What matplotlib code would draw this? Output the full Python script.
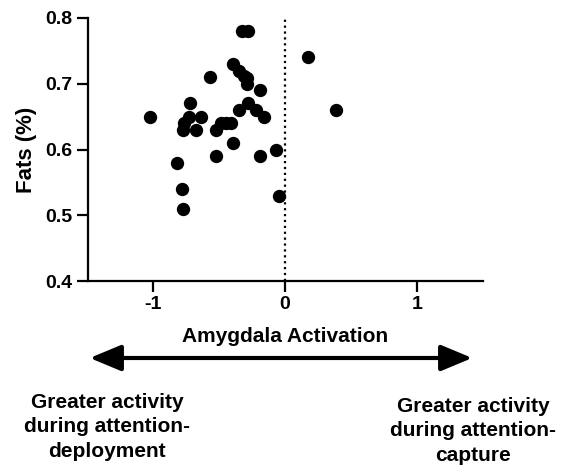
import matplotlib.pyplot as plt
from matplotlib.patches import FancyArrowPatch

plt.rcParams['font.family'] = ['Liberation Sans', 'DejaVu Sans']
plt.rcParams['font.weight'] = 'bold'

# amygdala activation (x) vs fats percentage (y)
activation = [-0.327, -0.277, 0.174, -0.395, -0.345, -0.312, -0.287, -0.29,
              -0.567, -0.191, -0.715, -0.28, -0.345, -0.219, 0.385, -1.018,
              -0.723, -0.635, -0.161, -0.76, -0.768, -0.67, -0.519, -0.484,
              -0.446, -0.408, -0.39, -0.816, -0.519, -0.191, -0.07, -0.776,
              -0.043, -0.768]
fats = [0.78, 0.78, 0.74, 0.73, 0.72, 0.712, 0.708, 0.70,
        0.71, 0.69, 0.67, 0.67, 0.66, 0.66, 0.66, 0.65,
        0.65, 0.65, 0.65, 0.64, 0.63, 0.63, 0.63, 0.64,
        0.64, 0.64, 0.61, 0.58, 0.59, 0.59, 0.60, 0.54,
        0.53, 0.51]

x_ticks = [-1, 0, 1]
y_ticks = [0.4, 0.5, 0.6, 0.7, 0.8]

W, H = 567, 470
fig = plt.figure(figsize=(W / 100, H / 100), dpi=100)
ax = fig.add_axes([88 / W, (H - 281) / H, (483 - 88) / W, (281 - 18) / H])

ax.scatter(activation, fats, s=92, color='black', zorder=3, linewidths=0)
ax.axvline(0, color='black', linestyle=':', linewidth=1.6)

ax.set_xlim(-1.49, 1.50)
ax.set_ylim(0.4, 0.8)
ax.set_xticks(x_ticks)
ax.set_yticks(y_ticks)
ax.set_xticklabels([str(t) for t in x_ticks])
ax.set_yticklabels([f'{t:.1f}' for t in y_ticks])

for side in ['top', 'right']:
    ax.spines[side].set_visible(False)
for side in ['left', 'bottom']:
    ax.spines[side].set_linewidth(1.6)
ax.tick_params(width=1.6, length=8, labelsize=14, pad=3)

ax.set_xlabel('Amygdala Activation', fontsize=15, fontweight='bold', labelpad=10)
ax.set_ylabel('Fats (%)', fontsize=16, fontweight='bold', labelpad=6)

arrow = FancyArrowPatch((87 / W, (H - 358) / H), (475 / W, (H - 358) / H),
                        transform=fig.transFigure, arrowstyle='<|-|>,head_length=1.2,head_width=0.5',
                        mutation_scale=16, linewidth=3, color='black')
fig.patches.append(arrow)

fig.text(107 / W, (H - 427) / H, 'Greater activity\nduring attention-\ndeployment',
         ha='center', va='center', fontsize=15, fontweight='bold', linespacing=1.38)
fig.text(473 / W, (H - 431) / H, 'Greater activity\nduring attention-\ncapture',
         ha='center', va='center', fontsize=15, fontweight='bold', linespacing=1.38)

fig.savefig('out.png', dpi=100)
